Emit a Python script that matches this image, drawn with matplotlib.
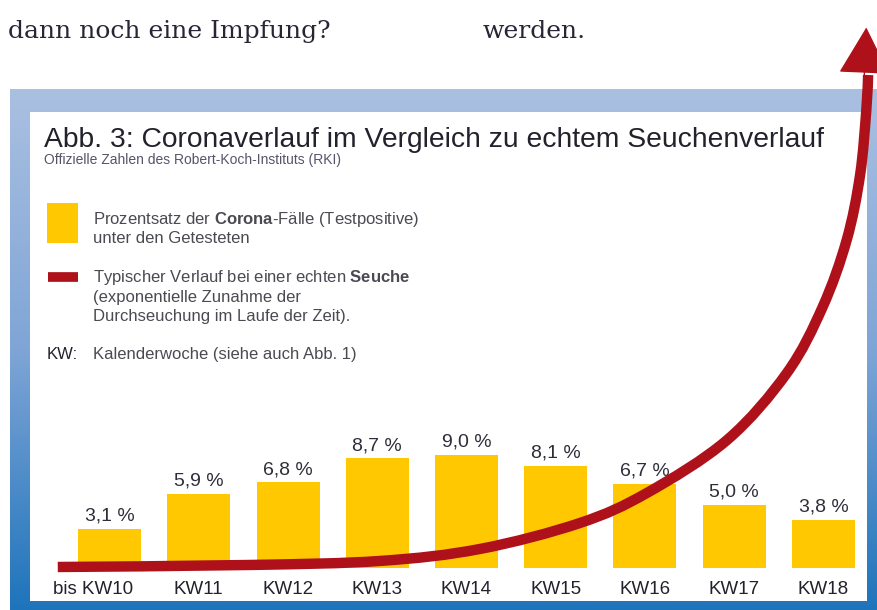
import numpy as np
import matplotlib
matplotlib.use("Agg")
import matplotlib.pyplot as plt
import matplotlib.transforms as mtransforms
from matplotlib.patches import Rectangle, PathPatch
from matplotlib.path import Path
from matplotlib.lines import Line2D
from matplotlib.colors import to_rgb

# ---------------- data ----------------
categories = ["bis KW10", "KW11", "KW12", "KW13", "KW14", "KW15", "KW16", "KW17", "KW18"]
positive_rate = [3.1, 5.9, 6.8, 8.7, 9.0, 8.1, 6.7, 5.0, 3.8]

# schematic "typical epidemic" curve (x: week index, y: % units)
curve_x = [-0.58, 1.57, 3.03, 4.15, 5.27, 6.02, 6.92, 7.59, 7.99, 8.26, 8.41, 8.48, 8.50]
curve_y = [0.08, 0.24, 0.56, 1.51, 3.57, 5.95, 10.16, 15.48, 20.71, 26.03, 31.19, 36.35, 39.13]
arrow_tip = (8.48, 42.9)

title = "Abb. 3: Coronaverlauf im Vergleich zu echtem Seuchenverlauf"
subtitle = "Offizielle Zahlen des Robert-Koch-Instituts (RKI)"
legend_bar = ["Prozentsatz der $\\mathbf{Corona}$-Fälle (Testpositive)",
              "unter den Getesteten"]
legend_line = ["Typischer Verlauf bei einer echten $\\mathbf{Seuche}$",
               "(exponentielle Zunahme der",
               "Durchseuchung im Laufe der Zeit)."]
kw_key = "KW:"
kw_text = "Kalenderwoche (siehe auch Abb. 1)"
top_left = "dann noch eine Impfung?"
top_right = "werden."

# ---------------- style ----------------
plt.rcParams["font.family"] = ["Liberation Sans", "DejaVu Sans"]
plt.rcParams["mathtext.fontset"] = "custom"
plt.rcParams["mathtext.rm"] = "Liberation Sans"
plt.rcParams["mathtext.bf"] = "Liberation Sans:bold"
plt.rcParams["mathtext.it"] = "Liberation Sans:italic"
plt.rcParams["mathtext.sf"] = "Liberation Sans"

YELLOW = "#FFC800"
RED = "#AF111B"
TXT = "#4a4a52"
DARK = "#22222c"

W, H = 878, 610
fig = plt.figure(figsize=(W / 100, H / 100), dpi=100)
fig.patch.set_facecolor("white")


def fx(px):
    return px / W


def fy(py):
    return 1 - py / H


# ---------------- frame with gradient ----------------
bg = fig.add_axes([fx(10), 0, 1 - fx(10), fy(89)], zorder=0)
bg.set_axis_off()
top_c = np.array(to_rgb("#AAC0E1"))
mid_c = np.array(to_rgb("#7FA5D6"))
bot_c = np.array(to_rgb("#1E74BB"))
t = np.linspace(0, 1, 256)[:, None]
grad = np.where(t < 0.5, top_c + (mid_c - top_c) * (t / 0.5),
                mid_c + (bot_c - mid_c) * ((t - 0.5) / 0.5))
bg.imshow(grad[:, None, :], aspect="auto", extent=[0, 1, 0, 1])
bg.set_xlim(0, 1)
bg.set_ylim(0, 1)
bg.add_patch(Rectangle((fx(30), fy(601)), fx(867) - fx(30), fy(112) - fy(601),
                       transform=fig.transFigure, facecolor="white", edgecolor="none",
                       zorder=5, clip_on=False))
# legend symbols
bg.add_patch(Rectangle((fx(47), fy(243)), fx(78) - fx(47), fy(203) - fy(243),
                       transform=fig.transFigure, facecolor=YELLOW, edgecolor="none",
                       zorder=6, clip_on=False))
bg.add_line(Line2D([fx(48), fx(78)], [fy(277), fy(277)], transform=fig.transFigure,
                   color=RED, lw=7, solid_capstyle="butt", zorder=6, clip_on=False))

# ---------------- main chart ----------------
ax = fig.add_axes([fx(64.9), fy(568), fx(868.1) - fx(64.9), fy(25) - fy(568)], zorder=1)
ax.set_facecolor("none")
x = np.arange(len(categories))
ax.bar(x, positive_rate, width=0.706, color=YELLOW, zorder=2)
for xi, v in zip(x, positive_rate):
    ax.annotate(f"{v:.1f} %".replace(".", ","), (xi, v), xytext=(0, 3),
                textcoords="offset points", ha="center", va="bottom",
                fontsize=14, color="#2e2e3a", zorder=3)
ax.set_xlim(-0.5, len(categories) - 0.5)
ax.set_ylim(0, 43.1)
ax.set_xticks(x)
ax.set_xticklabels(categories, fontsize=13.5, color="#22222c")
ax.tick_params(axis="x", length=0, pad=9)
ax.set_yticks([])
for s in ax.spines.values():
    s.set_visible(False)
# first label sits a bit left of its bar in the original
first = ax.get_xticklabels()[0]
first.set_transform(first.get_transform() +
                    mtransforms.ScaledTranslation(-16 / 100, 0, fig.dpi_scale_trans))

# smooth curve through the read points (Catmull-Rom -> cubic Bezier, in display space)
pts = ax.transData.transform(np.column_stack([curve_x, curve_y]))
verts = [pts[0]]
codes = [Path.MOVETO]
for i in range(len(pts) - 1):
    p0 = pts[i - 1] if i > 0 else pts[i]
    p1, p2 = pts[i], pts[i + 1]
    p3 = pts[i + 2] if i + 2 < len(pts) else pts[i + 1]
    c1 = p1 + (p2 - p0) / 6
    c2 = p2 - (p3 - p1) / 6
    verts += [c1, c2, p2]
    codes += [Path.CURVE4] * 3
curve_path = Path(ax.transData.inverted().transform(np.array(verts)), codes)
ax.add_patch(PathPatch(curve_path, facecolor="none", edgecolor=RED, lw=7.5,
                       capstyle="butt", joinstyle="round", zorder=5, clip_on=False))
ax.annotate("", xy=arrow_tip, xytext=(curve_x[-3], curve_y[-3]),
            arrowprops=dict(arrowstyle="-|>,head_length=31,head_width=17",
                            mutation_scale=1, color=RED, lw=1,
                            shrinkA=0, shrinkB=0),
            annotation_clip=False, zorder=6)

# ---------------- texts ----------------
fig.text(fx(8), fy(38), top_left, fontsize=18, family="DejaVu Serif",
         color="#262636", va="baseline")
fig.text(fx(483), fy(38), top_right, fontsize=18, family="DejaVu Serif",
         color="#262636", va="baseline")

fig.text(fx(44), fy(147), title, fontsize=20.3, color=DARK, va="baseline")
fig.text(fx(44), fy(164), subtitle, fontsize=10, color="#55556a", va="baseline")

fig.text(fx(93), fy(224), legend_bar[0], fontsize=12, color=TXT, va="baseline")
fig.text(fx(93), fy(243), legend_bar[1], fontsize=12, color=TXT, va="baseline")
for i, line in enumerate(legend_line):
    fig.text(fx(93), fy(282 + 19.5 * i), line, fontsize=12, color=TXT, va="baseline")
fig.text(fx(47), fy(359), kw_key, fontsize=12, color=DARK, va="baseline")
fig.text(fx(93), fy(359), kw_text, fontsize=12, color=TXT, va="baseline")

fig.savefig("out.png", dpi=100)
